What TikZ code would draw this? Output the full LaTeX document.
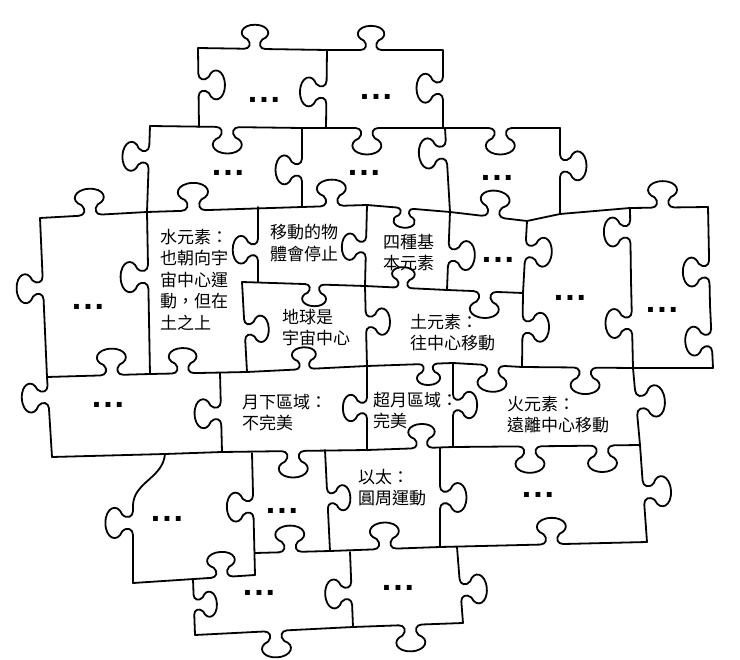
\documentclass[tikz,border=0pt]{standalone}
\usepackage{fontspec}
\newfontfamily\cjkf{Noto Sans CJK TC}
\newfontfamily\dotf{Liberation Sans}
\usetikzlibrary{calc}
\tikzset{
  knx/.style n args={3}{to path={
    let \p1=(\tikztostart), \p2=(\tikztotarget),
        \n1={atan2(\y2-\y1,\x2-\x1)}, \n2={\n1+90*(#2)},
        \p3=($(\p1)!#1!(\p2)$) in
    -- ($(\p3)+(\n1:{-10*#3pt})$)
    .. controls ($(\p3)+(\n1:{-5*#3pt})$) and ($(\p3)+(\n1:{-3*#3pt})+(\n2:{5*#3pt})$) .. ($(\p3)+(\n1:{-7*#3pt})+(\n2:{9*#3pt})$)
    .. controls ($(\p3)+(\n1:{-17*#3pt})+(\n2:{13*#3pt})$) and ($(\p3)+(\n1:{-13*#3pt})+(\n2:{23*#3pt})$) .. ($(\p3)+(\n2:{23*#3pt})$)
    .. controls ($(\p3)+(\n1:{13*#3pt})+(\n2:{23*#3pt})$) and ($(\p3)+(\n1:{17*#3pt})+(\n2:{13*#3pt})$) .. ($(\p3)+(\n1:{7*#3pt})+(\n2:{9*#3pt})$)
    .. controls ($(\p3)+(\n1:{3*#3pt})+(\n2:{5*#3pt})$) and ($(\p3)+(\n1:{5*#3pt})$) .. ($(\p3)+(\n1:{10*#3pt})$)
    -- (\tikztotarget)}},
  kn/.style 2 args={knx={#1}{#2}{1.15}},
  pzl/.style={line width=1.8pt, line join=round, line cap=round},
  lbl/.style={anchor=north west, inner sep=0pt, align=left, font=\cjkf\fontsize{17}{21.5}\selectfont},
  dts/.style={inner sep=0pt, font=\dotf\bfseries\fontsize{34}{34}\selectfont}
}
\begin{document}
\begin{tikzpicture}[x=1pt,y=-1pt]
\fill[white] (0,0) rectangle (740,660);
\useasboundingbox (0,0) rectangle (740,660);
\begin{scope}[pzl]
% top row
\draw (198,48) to[knx={0.44}{1}{1.05}] (327,50) to[knx={0.38}{1}{1.05}] (443,50) to[kn={0.49}{-1}] (443,128);
\draw (198,48) to[kn={0.47}{1}] (199,127);
\draw (327,50) to[kn={0.54}{-1}] (326,128);
\draw (150,126) to[kn={0.51}{-1}] (302,128) to[kn={0.46}{-1}] (443,128) to[kn={0.49}{-1}] (560,128);
% row 2 verticals
\draw (150,126) to[kn={0.36}{-1}] (147,212);
\draw (302,128) to[kn={0.53}{-1}] (302,207);
\draw (445,128) to[knx={0.29}{-1}{1.2}] (450,212);
\draw (560,128) to[kn={0.44}{1}] (560,214);
% row 2/3 line
\draw (40,218) to[kn={0.47}{1}] (147,212) to[knx={0.30}{1}{1.2}] (302,207) to[kn={0.46}{1}] (367,205)
      to[knx={0.46}{-1}{0.85}] (450,212) to[kn={0.56}{1}] (527,221) -- (560,214) -- (630,208) to[kn={0.42}{1}] (708,207);
% row 3 verticals
\draw (40,218) to[kn={0.44}{-1}] (47,377);
\draw (147,212) to[knx={0.40}{-1}{1.2}] (150,374);
\draw (258,207) to[knx={0.57}{-1}{1.1}] (258,282);
\draw (367,205) to[knx={0.52}{-1}{1.05}] (365,286);
\draw (450,212) to[kn={0.55}{1}] (447,290);
\draw (527,221) to[kn={0.42}{1}] (523,293);
\draw (630,208) to[kn={0.33}{-1}] (631,280) to[kn={0.49}{-1}] (633,368);
\draw (708,207) to[kn={0.66}{-1}] (710,305) to[kn={0.56}{-1}] (713,368);
% middle lines
\draw (242,282) to[knx={0.59}{-1}{0.95}] (365,286) to[knx={0.46}{1}{0.9}] (447,290) to[kn={0.5}{-1}] (523,293);
\draw (242,282) to[knx={0.53}{1}{1.05}] (247,372);
\draw (365,286) to[knx={0.45}{1}{1.05}] (367,366);
\draw (523,293) to[kn={0.46}{1}] (522,367);
% row 3/4 line
\draw (47,377) to[kn={0.63}{1}] (150,374) to[knx={0.34}{1}{1.1}] (247,372) to[knx={0.48}{1}{0.95}] (367,366)
      to[knx={0.71}{-1}{0.92}] (453,363) to[kn={0.58}{-1}] (522,367) to[kn={0.57}{-1}] (633,368) -- (713,368);
% row 4 verticals
\draw (47,377) to[kn={0.25}{-1}] (52,457);
\draw (220,373) to[kn={0.51}{-1}] (222,452);
\draw (367,366) to[knx={0.5}{-1}{1.05}] (367,450);
\draw (453,363) to[knx={0.5}{1}{1.05}] (453,447);
\draw (633,368) to[knx={0.45}{1}{1.25}] (640,445);
% row 4/5 line
\draw (52,457) -- (165,454) -- (222,452) to[kn={0.49}{-1}] (367,450) to[knx={0.64}{1}{1.05}] (453,447)
      to[kn={0.68}{-1}] (566,446) to[kn={0.49}{-1}] (640,445);
% row 5 verticals
\draw (165,454) .. controls (163,478) and (134,482) .. (133,505) to[knx={0.23}{-1}{1.2}] (133,583);
\draw (252,453) to[kn={0.44}{-1}] (255,575);
\draw (325,450) to[knx={0.48}{1}{1.0}] (330,551);
\draw (440,448) to[kn={0.5}{1}] (440,547);
\draw (640,445) to[knx={0.49}{1}{1.2}] (647,542);
% row 5/6 lines
\draw (133,583) to[knx={0.73}{1}{1.1}] (255,575);
\draw (255,553) to[kn={0.47}{1}] (330,551) to[kn={0.5}{1}] (440,547) to[kn={0.54}{1}] (647,542);
% bottom row
\draw (193,579) to[knx={0.46}{1}{1.0}] (195,635) to[kn={0.51}{-1}] (353,627) to[kn={0.52}{-1}] (463,623);
\draw (350,552) to[kn={0.55}{-1}] (353,627);
\draw (457,547) to[kn={0.57}{1}] (463,623);
\end{scope}
% labels
\node[lbl] (water) at (160,229) {水元素：\\也朝向宇\\宙中心運\\動，但在\\土之上};
\node[lbl] (move) at (270,224) {移動的物\\體會停止};
\node[lbl] (four) at (383,234) {四種基\\本元素};
\node[lbl] (earth) at (282,309) {地球是\\宇宙中心};
\node[lbl] (soil) at (410,314) {土元素：\\往中心移動};
\node[lbl] (sub) at (242,394) {月下區域：\\不完美};
\node[lbl] (super) at (373,392) {超月區域：\\完美};
\node[lbl] (fire) at (507,396) {火元素：\\遠離中心移動};
\node[lbl] (ether) at (358,469) {以太：\\圓周運動};
% dots
\node[dts] (dA) at (264,100) {.\kern2pt.\kern2pt.};
\node[dts] (dB) at (376,97) {.\kern2pt.\kern2pt.};
\node[dts] (dC) at (228,173) {.\kern2pt.\kern2pt.};
\node[dts] (dD) at (364,173) {.\kern2pt.\kern2pt.};
\node[dts] (dE) at (497,178) {.\kern2pt.\kern2pt.};
\node[dts] (dF) at (498,260) {.\kern2pt.\kern2pt.};
\node[dts] (dR1) at (570,298) {.\kern2pt.\kern2pt.};
\node[dts] (dR2) at (662,310) {.\kern2pt.\kern2pt.};
\node[dts] (dG) at (88,307) {.\kern2pt.\kern2pt.};
\node[dts] (dL) at (108,405) {.\kern2pt.\kern2pt.};
\node[dts] (dW) at (167,519) {.\kern2pt.\kern2pt.};
\node[dts] (dX) at (282,511) {.\kern2pt.\kern2pt.};
\node[dts] (dS) at (538,495) {.\kern2pt.\kern2pt.};
\node[dts] (dU1) at (259,593) {.\kern2pt.\kern2pt.};
\node[dts] (dU2) at (398,588) {.\kern2pt.\kern2pt.};
\end{tikzpicture}
\end{document}
